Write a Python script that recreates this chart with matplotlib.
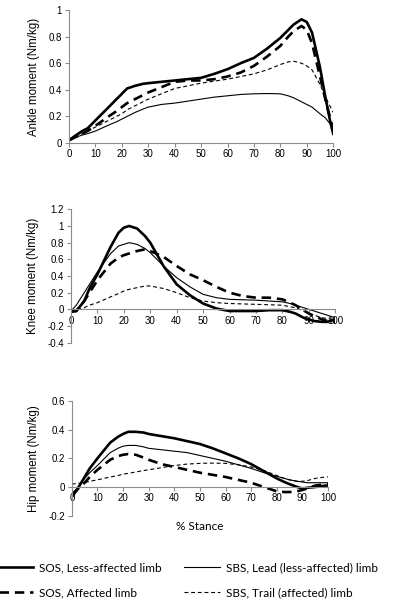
#! /usr/bin/env python

# Plotting
import matplotlib
matplotlib.use('Agg')
import matplotlib.pyplot as plt

# Percent of stance shared by every series
stance = [0, 2, 5, 7, 10, 15, 18, 20, 22, 25, 28, 30, 35, 40, 45, 50, 55, 60,
          65, 70, 75, 80, 83, 85, 88, 90, 92, 95, 97, 99, 100]

# Ankle moment (Nm/kg)
ankle_sos_less = [0.02, 0.05, 0.09, 0.11, 0.17, 0.27, 0.33, 0.37, 0.41, 0.43, 0.445, 0.45,
                  0.46, 0.47, 0.48, 0.49, 0.52, 0.555, 0.6, 0.64, 0.71, 0.79, 0.85, 0.89,
                  0.93, 0.91, 0.83, 0.57, 0.35, 0.15, 0.07]
ankle_sos_aff = [0.02, 0.04, 0.07, 0.09, 0.13, 0.2, 0.24, 0.27, 0.3, 0.33, 0.36, 0.38,
                 0.42, 0.46, 0.47, 0.47, 0.48, 0.5, 0.53, 0.58, 0.65, 0.73, 0.8, 0.84,
                 0.88, 0.85, 0.75, 0.5, 0.33, 0.18, 0.1]
ankle_sbs_lead = [0.02, 0.04, 0.06, 0.07, 0.09, 0.135, 0.16, 0.18, 0.2, 0.23, 0.255, 0.27,
                  0.29, 0.3, 0.315, 0.33, 0.345, 0.355, 0.365, 0.37, 0.372, 0.37, 0.355,
                  0.34, 0.31, 0.29, 0.27, 0.22, 0.19, 0.14, 0.12]
ankle_sbs_trail = [0.02, 0.04, 0.07, 0.09, 0.12, 0.17, 0.2, 0.22, 0.25, 0.28, 0.31, 0.33,
                   0.37, 0.41, 0.43, 0.45, 0.465, 0.48, 0.5, 0.52, 0.55, 0.59, 0.61, 0.615,
                   0.6, 0.58, 0.55, 0.44, 0.35, 0.27, 0.23]

# Knee moment (Nm/kg)
knee_sos_less = [-0.03, -0.02, 0.1, 0.25, 0.42, 0.75, 0.92, 0.98, 1.0, 0.97, 0.88, 0.8,
                 0.52, 0.3, 0.17, 0.07, 0.01, -0.02, -0.02, -0.02, -0.01, -0.01, -0.03,
                 -0.05, -0.1, -0.12, -0.14, -0.15, -0.15, -0.13, -0.12]
knee_sos_aff = [-0.02, -0.02, 0.1, 0.2, 0.35, 0.55, 0.62, 0.65, 0.67, 0.7, 0.72, 0.7,
                0.63, 0.52, 0.42, 0.35, 0.27, 0.2, 0.16, 0.14, 0.14, 0.12, 0.08, 0.05,
                -0.01, -0.05, -0.08, -0.12, -0.14, -0.15, -0.15]
knee_sbs_lead = [-0.02, 0.05, 0.2, 0.3, 0.45, 0.67, 0.76, 0.78, 0.8, 0.78, 0.73, 0.68,
                 0.52, 0.38, 0.27, 0.18, 0.14, 0.12, 0.115, 0.11, 0.1, 0.09, 0.07, 0.05,
                 0.02, 0.0, -0.02, -0.05, -0.07, -0.09, -0.1]
knee_sbs_trail = [-0.02, -0.01, 0.02, 0.05, 0.08, 0.15, 0.19, 0.22, 0.24, 0.26, 0.28, 0.28,
                  0.25, 0.2, 0.14, 0.1, 0.08, 0.07, 0.065, 0.06, 0.055, 0.05, 0.03, 0.02,
                  -0.02, -0.05, -0.07, -0.1, -0.11, -0.12, -0.12]

# Hip moment (Nm/kg)
hip_sos_less = [-0.07, -0.02, 0.07, 0.13, 0.2, 0.31, 0.35, 0.37, 0.385, 0.385, 0.38, 0.37,
                0.355, 0.34, 0.32, 0.3, 0.27, 0.235, 0.2, 0.16, 0.11, 0.06, 0.035, 0.02,
                0.0, -0.01, -0.005, 0.0, 0.005, 0.01, 0.01]
hip_sos_aff = [-0.05, -0.02, 0.03, 0.07, 0.12, 0.19, 0.215, 0.225, 0.23, 0.225, 0.205, 0.19,
               0.16, 0.14, 0.12, 0.1, 0.085, 0.07, 0.05, 0.03, 0.0, -0.03, -0.035, -0.035,
               -0.03, -0.02, -0.01, 0.01, 0.015, 0.02, 0.02]
hip_sbs_lead = [-0.05, -0.01, 0.06, 0.1, 0.15, 0.24, 0.27, 0.285, 0.29, 0.29, 0.28, 0.27,
                0.26, 0.25, 0.24, 0.22, 0.2, 0.18, 0.155, 0.13, 0.1, 0.075, 0.06, 0.05,
                0.04, 0.035, 0.03, 0.03, 0.03, 0.03, 0.03]
hip_sbs_trail = [0.02, 0.025, 0.03, 0.04, 0.05, 0.07, 0.08, 0.09, 0.095, 0.105, 0.115, 0.12,
                 0.135, 0.15, 0.16, 0.165, 0.167, 0.165, 0.155, 0.14, 0.115, 0.08, 0.06,
                 0.05, 0.04, 0.04, 0.045, 0.06, 0.065, 0.07, 0.07]

# Tick values
x_ticks = list(range(0, 101, 10))
ankle_ticks = [0, 0.2, 0.4, 0.6, 0.8, 1]
knee_ticks = [-0.4, -0.2, 0, 0.2, 0.4, 0.6, 0.8, 1, 1.2]
hip_ticks = [-0.2, 0, 0.2, 0.4, 0.6]

# Legend labels
labels = ['SOS, Less-affected limb', 'SOS, Affected limb',
          'SBS, Lead (less-affected) limb', 'SBS, Trail (affected) limb']

# Line styles for each series
styles = [dict(color='black', lw=1.9, ls='-'),
          dict(color='black', lw=1.9, ls=(0, (3.6, 2.2))),
          dict(color='black', lw=0.8, ls='-'),
          dict(color='black', lw=0.8, ls=(0, (3.5, 2.5)))]

# Arial-like text for the chart parts
plt.rcParams['font.family'] = ['Liberation Sans', 'DejaVu Sans']
plt.rcParams['font.size'] = 7
axis_gray = '#8c8c8c'

fig = plt.figure(figsize=(3.99, 6.06), dpi=100)

# Panel positions (left, bottom, width, height) in figure fraction
panels = [
    ([0.173, 0.764, 0.662, 0.2195], (0, 1), ankle_ticks,
     'Ankle moment (Nm/kg)',
     [ankle_sos_less, ankle_sos_aff, ankle_sbs_lead, ankle_sbs_trail]),
    ([0.178, 0.4345, 0.662, 0.2201], (-0.4, 1.2), knee_ticks,
     'Knee moment (Nm/kg)',
     [knee_sos_less, knee_sos_aff, knee_sbs_lead, knee_sbs_trail]),
    ([0.180, 0.149, 0.642, 0.1893], (-0.2, 0.6), hip_ticks,
     'Hip moment (Nm/kg)',
     [hip_sos_less, hip_sos_aff, hip_sbs_lead, hip_sbs_trail]),
]

handles = []
for rect, ylim, yticks, ylabel, series in panels:
    ax = fig.add_axes(rect)
    lines = []
    for values, style in zip(series, styles):
        line, = ax.plot(stance, values, solid_joinstyle='round', **style)
        lines.append(line)
    handles = lines

    ax.set_xlim(0, 100)
    ax.set_ylim(*ylim)
    ax.set_xticks(x_ticks)
    ax.set_yticks(yticks)
    ax.set_yticklabels(['{:g}'.format(v) for v in yticks])
    ax.set_xticklabels([str(v) for v in x_ticks])
    ax.set_ylabel(ylabel, size=8.3, labelpad=6)

    # Axis line at zero, Excel style
    ax.spines['bottom'].set_position(('data', 0))
    for side in ['top', 'right']:
        ax.spines[side].set_visible(False)
    for side in ['left', 'bottom']:
        ax.spines[side].set_color(axis_gray)
        ax.spines[side].set_linewidth(0.8)
    ax.tick_params(axis='both', direction='out', length=3, width=0.8,
                   color=axis_gray, pad=2, labelsize=7)
    ax.tick_params(axis='x', pad=1.5)
    ax.set_facecolor('none')

# Shared x label
fig.text(0.5, 1 - 527 / 606, '% Stance', ha='center', va='center',
         family='Lato', size=8.5)

# Legend below the panels
fig.legend(handles, labels,
           loc='upper left', bbox_to_anchor=(-0.005, 0.072), ncol=2,
           frameon=False, prop=dict(family='Lato', size=8.5),
           handlelength=3.0, handletextpad=0.5, columnspacing=1.9,
           labelspacing=1.15, borderpad=0, borderaxespad=0)

fig.savefig('out.png', dpi=100)
